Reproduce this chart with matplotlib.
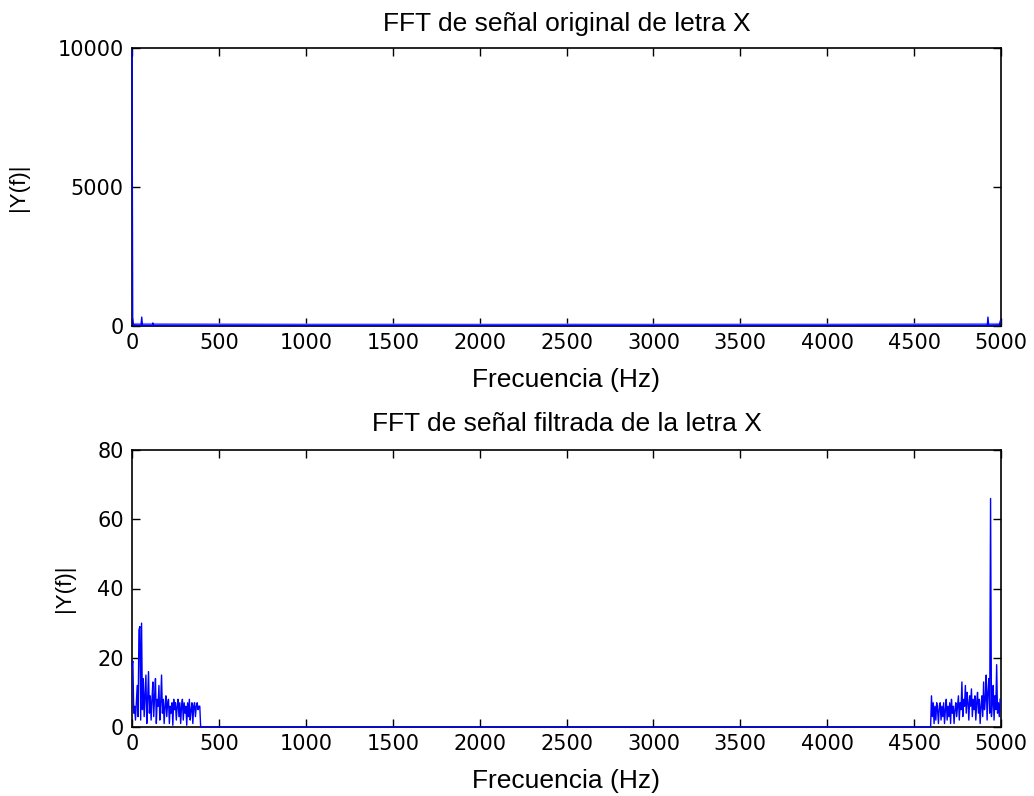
import matplotlib
matplotlib.use("Agg")
import matplotlib.pyplot as plt

plt.rcParams['font.family'] = ['Liberation Sans', 'DejaVu Sans']

# ---- Spectrum of the original recording (|Y(f)|) ----
orig_freq = [0, 4, 8, 52, 56, 60, 118, 120, 122, 4921, 4925, 4929, 4990, 4998]
orig_mag = [9900, 300, 40, 30, 320, 30, 30, 110, 30, 30, 320, 30, 40, 220]
# upper envelope of the dense low-level noise floor
floor_freq = [0, 500, 1000, 1500, 2000, 2500, 3000, 3500, 4000, 4500, 5000]
floor_hi = [130, 120, 110, 110, 105, 110, 105, 110, 110, 120, 130]

# ---- Spectrum of the filtered signal ----
low_freq = list(range(0, 400, 5))
low_mag = [18, 19, 4, 6, 2, 7, 12, 3, 28, 29, 2, 30, 5, 14, 3, 9, 15, 1, 8, 16,
           4, 9, 2, 8, 13, 3, 9, 14, 1, 8, 6, 12, 2, 7, 15, 4, 8, 1, 6, 9,
           3, 7, 8, 1, 6, 4, 7, 0.5, 8, 5, 7, 2, 6, 8, 3, 7, 1, 6, 8, 2,
           7, 4, 6, 0.5, 7, 3, 8, 2, 5, 7, 1, 6, 7, 3, 6, 7, 5, 6, 6, 0]
high_freq = list(range(4595, 5000, 5))
high_mag = [0, 9, 3, 7, 1, 6, 2, 7, 5, 1, 6, 7, 2, 6, 3, 7, 1, 5, 8, 2,
            6, 3, 7, 1, 8, 4, 6, 1, 5, 7, 3, 6, 9, 2, 7, 5, 13, 3, 8, 6,
            12, 4, 10, 7, 2, 9, 6, 11, 3, 8, 5, 9, 2, 7, 10, 4, 8, 1, 6, 9,
            3, 13, 5, 8, 15, 2, 10, 14, 4, 66, 3, 7, 12, 2, 9, 5, 18, 4, 7, 3,
            8]
gap_freq = [400, 4590]
gap_mag = [0, 0]

x_ticks = list(range(0, 5001, 500))
top_yticks = [0, 5000, 10000]
bot_yticks = [0, 20, 40, 60, 80]

fig = plt.figure(figsize=(10.34, 7.96), dpi=100)
ax1 = fig.add_axes([132 / 1034, 1 - 326 / 796, 869 / 1034, 278 / 796])
ax2 = fig.add_axes([132 / 1034, 1 - 727 / 796, 869 / 1034, 277 / 796])

TICK_FS = 15
LABEL_FS = 19
blue = '#0000ff'

ax1.fill_between(floor_freq, 0, floor_hi, color='#7f7fff', lw=0, zorder=2)
ax1.plot(orig_freq, orig_mag, color=blue, lw=1.0, zorder=3, clip_on=False)

f2 = low_freq + gap_freq + high_freq
m2 = low_mag + gap_mag + high_mag
ax2.plot(f2, m2, color=blue, lw=1.0, zorder=3, clip_on=False)

for ax, yt, ylim, title, ylab_x, tpad in [
    (ax1, top_yticks, (0, 10000), 'FFT de señal original de letra X', -0.118, 12),
    (ax2, bot_yticks, (0, 80), 'FFT de señal filtrada de la letra X', -0.066, 14),
]:
    ax.set_xlim(0, 5000)
    ax.set_ylim(*ylim)
    ax.set_xticks(x_ticks)
    ax.set_yticks(yt)
    ax.tick_params(direction='in', top=True, right=True, length=6, width=1,
                   labelsize=TICK_FS, color='black')
    ax.tick_params(axis='x', pad=5)
    ax.tick_params(axis='y', pad=6)
    for lab in ax.get_xticklabels() + ax.get_yticklabels():
        lab.set_fontfamily(['DejaVu Sans'])
    for s in ax.spines.values():
        s.set_linewidth(1.2)
        s.set_color('black')
    ax.set_title(title, fontsize=LABEL_FS, pad=tpad)
    ax.set_xlabel('Frecuencia (Hz)', fontsize=LABEL_FS, labelpad=11)
    ax.set_ylabel('|Y(f)|', fontsize=16)
    ax.yaxis.set_label_coords(ylab_x, 0.5)

fig.savefig('out.png', dpi=100, facecolor='white')
